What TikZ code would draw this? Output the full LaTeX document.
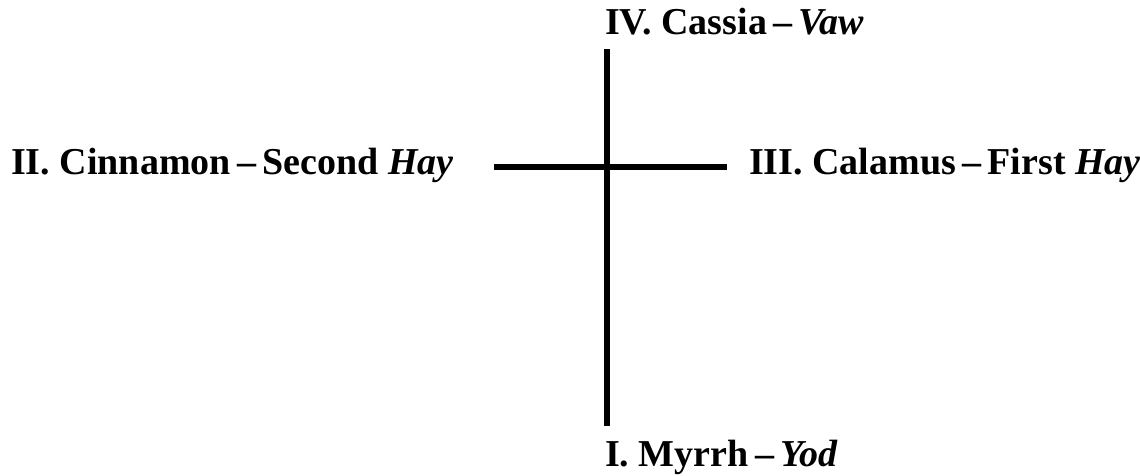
\documentclass[tikz,border=0pt]{standalone}
\usepackage{fontspec}
\setmainfont{Liberation Serif}
\begin{document}
\begin{tikzpicture}[x=1pt,y=-1pt,
  lbl/.style={inner sep=0pt,font=\fontsize{38}{42}\selectfont\bfseries,anchor=base west},
  bar/.style={line width=6.5pt}]
\useasboundingbox (0,0) rectangle (1140,476);
\coordinate (vt) at (607,49);
\coordinate (vb) at (607,426);
\coordinate (hl) at (494,167);
\coordinate (hr) at (727,167);
\draw[bar] (vt) -- (vb);
\draw[bar] (hl) -- (hr);
\node[lbl] (iv) at (605,35) {IV. Cassia\,--\,\textit{Vaw}};
\node[lbl] (ii) at (11,174) {II. Cinnamon\,--\,Second \textit{Hay}};
\node[lbl] (iii) at (749,174) {III. Calamus\,--\,First \textit{Hay}};
\node[lbl] (i) at (605,466) {I. Myrrh\,--\,\textit{Yod}};
\end{tikzpicture}
\end{document}
